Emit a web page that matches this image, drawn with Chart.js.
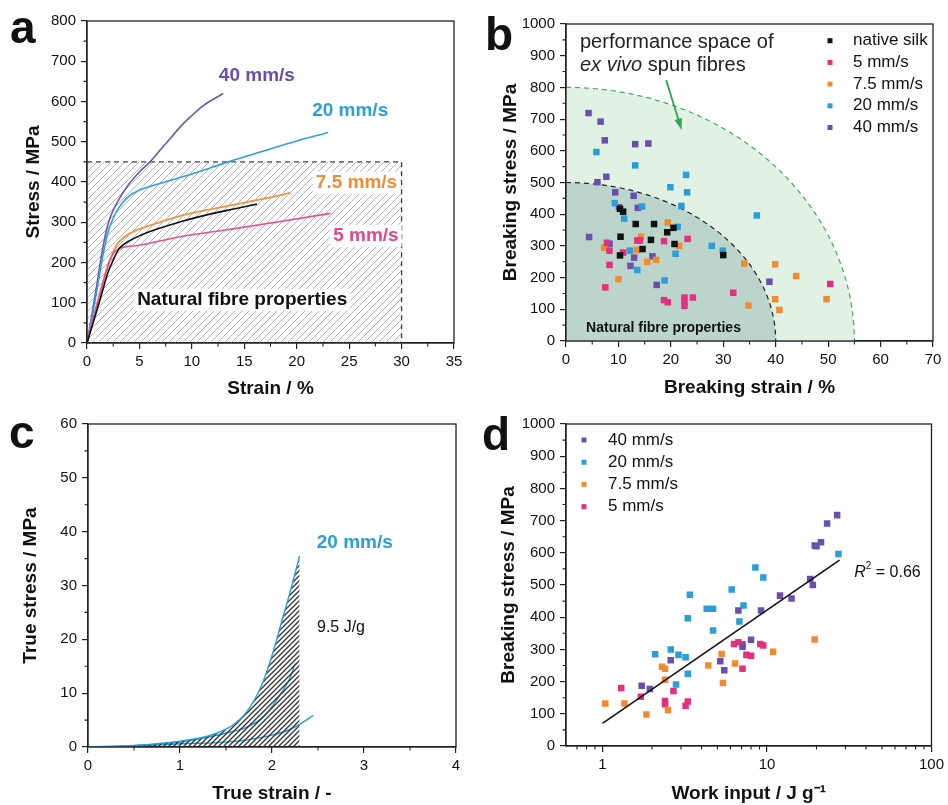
<!DOCTYPE html>
<html>
<head>
<meta charset="utf-8">
<title>Spun silk fibre mechanics</title>
<script src="https://cdn.jsdelivr.net/npm/chart.js@4.4.1/dist/chart.umd.min.js"></script>
<style>
  body { margin: 0; background: #fff; font-family: "Liberation Sans", Arial, sans-serif; }
  #fig { position: relative; width: 948px; height: 805px; overflow: hidden; }
  #fig canvas { position: absolute; }
  .tag { position: absolute; font-size: 46px; font-weight: bold; line-height: 1; color: #111; }
</style>
</head>
<body>
<div id="fig">
  <canvas id="ca" width="474" height="400" style="left:0;top:0"></canvas>
  <canvas id="cb" width="474" height="400" style="left:474px;top:0"></canvas>
  <canvas id="cc" width="474" height="405" style="left:0;top:400px"></canvas>
  <canvas id="cd" width="474" height="405" style="left:474px;top:400px"></canvas>
  <div class="tag" style="left:10px;top:4px">a</div>
  <div class="tag" style="left:485px;top:11px">b</div>
  <div class="tag" style="left:9px;top:409px">c</div>
  <div class="tag" style="left:482px;top:411px">d</div>
</div>
<script>
// ---- a: stress / strain curves  [strain %, stress MPa]
const aNative = [[0,0],[1.24,107],[2,175],[2.5,206],[3,232],[3.5,245],[4.5,260],[6,277],[8.9,301],[12,322],[14,333],[16.2,345]];
const a5  = [[0,0],[1,100],[2,190],[2.5,222],[3,234],[3.5,238],[5,243],[8.9,264],[13,280],[18,300],[23.2,322]];
const a75 = [[0,0],[1,100],[2,195],[2.5,225],[2.8,243],[3.5,262],[4.5,278],[6,292],[8.9,316],[12,333],[15,349],[17.5,362],[19.4,373]];
const a20 = [[0,0],[0.5,65],[1,140],[1.5,215],[2,275],[2.5,310],[3,335],[4,365],[5,380],[7,397],[10,420],[13.5,450],[17,478],[20,502],[23,523]];
const a40 = [[0,0],[0.5,75],[1,155],[1.5,235],[2,295],[2.5,330],[3,355],[4,395],[5,425],[6,450],[7,480],[8,510],[9,540],[10,565],[11,588],[12,605],[13,620]];
const aNatural = [[0,450],[30,450],[30,0]];
const aStrainTicks = [0,5,10,15,20,25,30,35];
const aStressTicks = [0,100,200,300,400,500,600,700,800];

// ---- b: breaking stress vs breaking strain  [strain %, stress MPa]
const bNative = [[10.3,417],[10.9,408],[10.4,329],[10.3,270],[13.3,369],[14.6,290],[16.8,369],[16.2,319],[19.3,343],[20.5,357],[20.7,306],[30.0,271]];
const b5  = [[7.5,169],[7.8,310],[8.3,285],[8.3,240],[10.9,279],[13.6,317],[14.1,317],[18.7,315],[18.7,129],[19.4,122],[22.6,137],[22.6,124],[22.6,111],[24.2,137],[23.2,322],[31.9,152],[50.4,180]];
const b75 = [[7.3,294],[10.0,195],[13.5,287],[14.3,329],[15.5,250],[17.2,256],[19.4,374],[21.6,300],[34.0,244],[34.8,112],[39.9,242],[39.9,132],[40.7,98],[43.9,205],[49.7,132]];
const b20 = [[5.8,596],[13.2,554],[22.9,524],[23.1,469],[19.9,485],[22.0,426],[36.4,396],[9.3,435],[11.1,386],[14.5,424],[21.3,360],[12.2,285],[13.6,224],[20.9,275],[18.8,191],[27.8,300],[29.9,285]];
const b40 = [[4.3,719],[6.6,692],[7.4,633],[13.2,621],[15.7,623],[7.7,518],[6.0,501],[9.4,469],[12.9,458],[13.7,420],[10.1,422],[4.4,328],[8.3,307],[13.0,263],[12.3,237],[16.5,267],[17.3,177],[38.8,187]];
const bNaturalEnvelope = [40, 500];   // [strain, stress]
const bSpunEnvelope = [55, 800];
const bStrainTicks = [0,10,20,30,40,50,60,70];
const bStressTicks = [0,100,200,300,400,500,600,700,800,900,1000];

// ---- c: true stress vs true strain, 20 mm/s
const c1 = [[0,0],[0.5,0.3],[1,1.1],[1.3,2.0],[1.5,3.3],[1.6,4.4],[1.7,6],[1.8,8.5],[1.9,12],[2.0,17],[2.1,23],[2.2,29],[2.3,35.5]];
const c2 = [[0,0],[0.5,0.25],[1,0.9],[1.3,1.8],[1.5,2.6],[1.7,3.5],[1.9,5.5],[2.0,7.5],[2.1,10],[2.2,13],[2.25,15.5]];
const c3 = [[0,0],[0.5,0.2],[1,0.6],[1.5,0.9],[1.8,1.5],[2.0,2.2],[2.2,3.3],[2.3,4.2],[2.45,5.9]];
const cStrainTicks = [0,1,2,3,4];
const cStressTicks = [0,10,20,30,40,50,60];

// ---- d: breaking stress vs work input  [J/g, MPa]
const d40 = [[26.7,717],[23.2,691],[21.3,633],[19.5,623],[20.0,620],[18.3,519],[19.0,500],[12.0,467],[14.1,458],[6.7,421],[9.2,421],[8.0,330],[7.1,308],[5.2,263],[5.5,235],[2.6,266],[1.73,187],[1.94,177]];
const d20 = [[27.2,596],[8.5,554],[9.5,523],[6.1,486],[3.4,470],[4.3,426],[4.7,426],[7.2,436],[3.3,397],[6.8,387],[4.7,359],[2.09,285],[2.6,300],[2.9,283],[3.2,276],[3.3,224],[2.8,191]];
const d75 = [[19.5,331],[10.9,293],[5.3,286],[4.4,250],[6.4,256],[5.4,196],[2.3,246],[2.4,240],[2.4,206],[2.5,112],[1.85,98],[1.36,132],[1.04,132]];
const d5  = [[1.30,180],[1.71,153],[2.7,171],[2.4,130],[2.4,140],[3.2,125],[3.3,138],[6.3,317],[6.7,322],[7.1,316],[7.5,283],[8.0,280],[7.1,240],[9.1,317],[9.5,312]];
const dTrend = [[1.0,70],[27.6,577]];
const dWorkTicks = [1,10,100];
const dWorkMinor = [0.7,0.8,0.9,2,3,4,5,6,7,8,9,20,30,40,50,60,70,80,90];
const dStressTicks = [0,100,200,300,400,500,600,700,800,900,1000];

const FONT = '"Liberation Sans", Arial, Helvetica, sans-serif';
Chart.defaults.font.family = FONT;
Chart.defaults.color = '#111';

const C = { native: '#111111', s5: '#e4307f', s75: '#f28a30', s20: '#2a9ed9', s40: '#6a50ac' };

const xy = pts => pts.map(([x, y]) => ({ x, y }));
const mids = t => t.slice(1).map((v, i) => (v + t[i]) / 2);

function hatch(color, gap, width) {
  const c = document.createElement('canvas');
  c.width = c.height = gap;
  const g = c.getContext('2d');
  g.strokeStyle = color; g.lineWidth = width;
  g.beginPath();
  g.moveTo(0, gap); g.lineTo(gap, 0);
  g.moveTo(-gap / 2, gap / 2); g.lineTo(gap / 2, -gap / 2);
  g.moveTo(gap / 2, gap * 1.5); g.lineTo(gap * 1.5, gap / 2);
  g.stroke();
  return g.createPattern(c, 'repeat');
}

function axis(ticks, title, o) {
  const vertical = o.side === 'y';
  return {
    type: o.log ? 'logarithmic' : 'linear',
    min: o.min ?? ticks[0], max: ticks[ticks.length - 1],
    afterBuildTicks: s => { s.ticks = ticks.map(v => ({ value: v })); },
    afterFit: s => { if (vertical) s.width = o.size; else s.height = o.size; },
    grid: { drawOnChartArea: false, drawTicks: true, tickLength: 6, color: '#222', lineWidth: 1.2 },
    border: { display: true, color: '#222', width: 1.3 },
    ticks: { autoSkip: false, maxRotation: 0, padding: vertical ? 5 : 4, font: { size: 15 }, color: '#111', callback: v => String(v) },
    title: { display: true, text: title, color: '#111', font: { size: 19, weight: 'bold' },
             padding: vertical ? { top: o.pad } : { bottom: o.pad } }
  };
}

// box round the plot + short minor ticks
function frame(minorX, minorY) {
  return {
    id: 'frame',
    afterDatasetsDraw(chart) {
      const { ctx, chartArea: a, scales } = chart;
      ctx.save();
      ctx.strokeStyle = '#222'; ctx.lineWidth = 1.3;
      ctx.strokeRect(a.left, a.top, a.width, a.height);
      ctx.lineWidth = 1.1;
      ctx.beginPath();
      minorX.forEach(v => { const p = scales.x.getPixelForValue(v); ctx.moveTo(p, a.bottom); ctx.lineTo(p, a.bottom + 3.5); });
      minorY.forEach(v => { const p = scales.y.getPixelForValue(v); ctx.moveTo(a.left, p); ctx.lineTo(a.left - 3.5, p); });
      ctx.stroke();
      ctx.restore();
    }
  };
}

// text placed in data units
function notes(items) {
  return {
    id: 'notes',
    afterDatasetsDraw(chart) {
      const { ctx, scales } = chart;
      items.forEach(n => {
        const parts = n.parts || [{ t: n.text }];
        ctx.save();
        const widths = parts.map(p => { ctx.font = p.font || n.font; return ctx.measureText(p.t).width; });
        const w = widths.reduce((s, v) => s + v, 0);
        let x = scales.x.getPixelForValue(n.x);
        const y = scales.y.getPixelForValue(n.y);
        if (n.align === 'center') x -= w / 2;
        ctx.textBaseline = 'middle';
        if (n.bg) { ctx.fillStyle = n.bg; ctx.fillRect(x - 3, y - n.bgH / 2, w + 6, n.bgH); }
        ctx.fillStyle = n.color || '#111';
        parts.forEach((p, i) => { ctx.font = p.font || n.font; ctx.fillText(p.t, x, y + (p.dy || 0)); x += widths[i]; });
        ctx.restore();
      });
    }
  };
}

function legendBox(o) {
  return {
    id: 'legendBox',
    afterDatasetsDraw(chart) {
      const { ctx, chartArea: a } = chart;
      ctx.save();
      ctx.font = '17px ' + FONT; ctx.textBaseline = 'middle';
      chart.data.datasets.filter(d => d.label).forEach((d, i) => {
        const y = a.top + o.dy + i * o.gap;
        ctx.fillStyle = d.backgroundColor;
        ctx.fillRect(a.left + o.dx - 2.5, y - 2.5, 5, 5);
        ctx.fillStyle = '#111';
        ctx.fillText(d.label, a.left + o.dx + o.textDx, y);
      });
      ctx.restore();
    }
  };
}

function regions(list) {
  return {
    id: 'regions',
    beforeDatasetsDraw(chart) {
      const { ctx, scales: { x, y } } = chart;
      const x0 = x.getPixelForValue(0), y0 = y.getPixelForValue(0);
      list.forEach(r => {
        const rx = x.getPixelForValue(r.env[0]) - x0, ry = y0 - y.getPixelForValue(r.env[1]);
        ctx.save();
        ctx.beginPath(); ctx.moveTo(x0, y0); ctx.ellipse(x0, y0, rx, ry, 0, -Math.PI / 2, 0); ctx.closePath();
        ctx.fillStyle = r.fill; ctx.fill();
        ctx.beginPath(); ctx.ellipse(x0, y0, rx, ry, 0, -Math.PI / 2, 0);
        ctx.setLineDash([5, 4]); ctx.strokeStyle = r.stroke; ctx.lineWidth = 1.2; ctx.stroke();
        ctx.restore();
      });
    }
  };
}

function arrow(from, to, color) {
  return {
    id: 'arrow',
    afterDatasetsDraw(chart) {
      const { ctx, scales: { x, y } } = chart;
      const x1 = x.getPixelForValue(from[0]), y1 = y.getPixelForValue(from[1]);
      const x2 = x.getPixelForValue(to[0]), y2 = y.getPixelForValue(to[1]);
      const ang = Math.atan2(y2 - y1, x2 - x1);
      ctx.save();
      ctx.strokeStyle = color; ctx.fillStyle = color; ctx.lineWidth = 1.8;
      ctx.beginPath(); ctx.moveTo(x1, y1); ctx.lineTo(x2 - 9 * Math.cos(ang), y2 - 9 * Math.sin(ang)); ctx.stroke();
      ctx.beginPath();
      ctx.moveTo(x2, y2);
      ctx.lineTo(x2 - 12 * Math.cos(ang - 0.32), y2 - 12 * Math.sin(ang - 0.32));
      ctx.lineTo(x2 - 12 * Math.cos(ang + 0.32), y2 - 12 * Math.sin(ang + 0.32));
      ctx.closePath(); ctx.fill();
      ctx.restore();
    }
  };
}

const base = (pad) => ({
  responsive: false, animation: false, events: [],
  layout: { padding: { left: 0, bottom: 0, top: pad.top, right: pad.right } },
  plugins: { legend: { display: false }, tooltip: { enabled: false } }
});

const curve = (pts, color, width) => ({
  data: xy(pts), borderColor: color, borderWidth: width || 1.6, pointRadius: 0,
  cubicInterpolationMode: 'monotone', fill: false
});

const dots = (label, pts, color) => ({
  label, data: xy(pts), backgroundColor: color, borderWidth: 0,
  pointStyle: 'rect', pointRadius: 4.6
});

// ---------- a
new Chart(document.getElementById('ca'), {
  type: 'line',
  data: {
    datasets: [
      curve(aNative, C.native),
      curve(a5, '#ea4f90'),
      curve(a75, '#f5923e', 1.8),
      curve(a20, '#2fa0dc'),
      curve(a40, '#6f55b5'),
      { data: xy(aNatural), borderColor: '#444', borderWidth: 1.4, borderDash: [5, 4], pointRadius: 0,
        tension: 0, fill: 'origin', backgroundColor: hatch('#a3b0b5', 7, 0.9), order: 10 }
    ]
  },
  options: Object.assign(base({ top: 21, right: 20 }), {
    scales: {
      x: axis(aStrainTicks, 'Strain / %', { side: 'x', size: 57, pad: 0 }),
      y: axis(aStressTicks, 'Stress / MPa', { side: 'y', size: 87, pad: 22 })
    }
  }),
  plugins: [
    frame(mids(aStrainTicks), mids(aStressTicks)),
    notes([
      { x: 16.2, y: 663, text: '40 mm/s', font: 'bold 19px ' + FONT, color: '#6a4fb0', align: 'center' },
      { x: 25.1, y: 576, text: '20 mm/s', font: 'bold 19px ' + FONT, color: '#2a9fdc', align: 'center' },
      { x: 25.7, y: 398, text: '7.5 mm/s', font: 'bold 19px ' + FONT, color: '#f28c30', align: 'center', bg: '#fff', bgH: 22 },
      { x: 26.6, y: 266, text: '5 mm/s', font: 'bold 19px ' + FONT, color: '#e6468c', align: 'center', bg: '#fff', bgH: 22 },
      { x: 14.8, y: 107, text: 'Natural fibre properties', font: 'bold 19px ' + FONT, color: '#111', align: 'center', bg: 'rgba(255,255,255,0.85)', bgH: 22 }
    ])
  ]
});

// ---------- b
new Chart(document.getElementById('cb'), {
  type: 'scatter',
  data: {
    datasets: [
      dots('native silk', bNative, C.native),
      dots('5 mm/s', b5, C.s5),
      dots('7.5 mm/s', b75, C.s75),
      dots('20 mm/s', b20, C.s20),
      dots('40 mm/s', b40, C.s40)
    ]
  },
  options: Object.assign(base({ top: 24, right: 15 }), {
    scales: {
      x: axis(bStrainTicks, 'Breaking strain / %', { side: 'x', size: 59, pad: 1 }),
      y: axis(bStressTicks, 'Breaking stress / MPa', { side: 'y', size: 92, pad: 25 })
    }
  }),
  plugins: [
    regions([
      { env: bSpunEnvelope, fill: '#e1f1e4', stroke: '#3fae5a' },
      { env: bNaturalEnvelope, fill: '#bcd5cc', stroke: '#222' }
    ]),
    frame(mids(bStrainTicks), mids(bStressTicks)),
    arrow([19.1, 823], [22.05, 666], '#2aa84a'),
    notes([
      { x: 2.67, y: 943, text: 'performance space of', font: '20px ' + FONT, color: '#222' },
      { x: 2.67, y: 869, font: '20px ' + FONT, color: '#222',
        parts: [{ t: 'ex vivo', font: 'italic 20px ' + FONT }, { t: ' spun fibres' }] },
      { x: 18.6, y: 41, text: 'Natural fibre properties', font: 'bold 14px ' + FONT, color: '#111', align: 'center' }
    ]),
    legendBox({ dx: 264, textDx: 23, dy: 16.7, gap: 21.7 })
  ]
});

// ---------- c
new Chart(document.getElementById('cc'), {
  type: 'line',
  data: {
    datasets: [
      Object.assign(curve(c1, '#2a9ed9', 1.4), { fill: 'origin', backgroundColor: hatch('#333', 5, 1.3) }),
      curve(c2, '#2a9ed9', 1.4),
      curve(c3, '#2a9ed9', 1.4)
    ]
  },
  options: Object.assign(base({ top: 24, right: 18 }), {
    scales: {
      x: axis(cStrainTicks, 'True strain / -', { side: 'x', size: 58, pad: 0 }),
      y: axis(cStressTicks, 'True stress / MPa', { side: 'y', size: 88, pad: 19 })
    }
  }),
  plugins: [
    frame(mids(cStrainTicks), mids(cStressTicks)),
    notes([
      { x: 2.90, y: 37.9, text: '20 mm/s', font: 'bold 19px ' + FONT, color: '#2a9fdc', align: 'center' },
      { x: 2.75, y: 22.1, text: '9.5 J/g', font: '16px ' + FONT, color: '#111', align: 'center' }
    ])
  ]
});

// ---------- d
new Chart(document.getElementById('cd'), {
  type: 'scatter',
  data: {
    datasets: [
      { data: xy(dTrend), showLine: true, borderColor: '#111', borderWidth: 1.6, pointRadius: 0 },
      dots('40 mm/s', d40, C.s40),
      dots('20 mm/s', d20, C.s20),
      dots('7.5 mm/s', d75, C.s75),
      dots('5 mm/s', d5, C.s5)
    ]
  },
  options: Object.assign(base({ top: 24, right: 14 }), {
    scales: {
      x: axis(dWorkTicks, 'Work input / J g\u207B\u00B9', { side: 'x', size: 59, pad: 0, log: true, min: 0.6 }),
      y: axis(dStressTicks, 'Breaking stress / MPa', { side: 'y', size: 92, pad: 23 })
    }
  }),
  plugins: [
    frame(dWorkMinor, mids(dStressTicks)),
    notes([
      { x: 33.9, y: 540, font: '16px ' + FONT, color: '#111',
        parts: [{ t: 'R', font: 'italic 16px ' + FONT }, { t: '2', font: '10px ' + FONT, dy: -6 }, { t: ' = 0.66' }] }
    ]),
    legendBox({ dx: 18, textDx: 24, dy: 16, gap: 22.2 })
  ]
});
</script>
</body>
</html>
